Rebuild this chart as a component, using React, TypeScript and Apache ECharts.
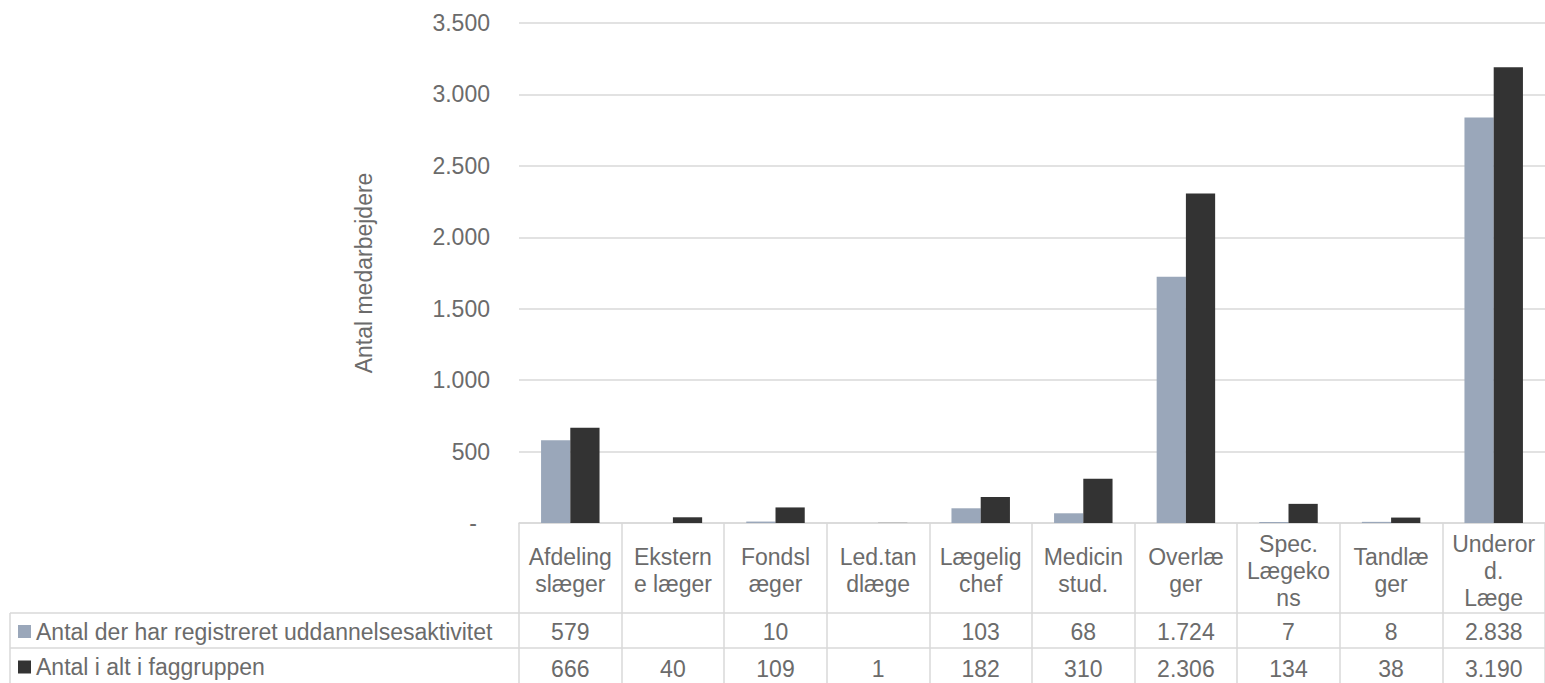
import React, { useEffect, useRef } from "react";
import * as echarts from "echarts";

const categories = [
  "Afdeling\nslæger",
  "Ekstern\ne læger",
  "Fondsl\næger",
  "Led.tan\ndlæge",
  "Lægelig\nchef",
  "Medicin\nstud.",
  "Overlæ\nger",
  "Spec.\nLægeko\nns",
  "Tandlæ\nger",
  "Underor\nd.\nLæge",
];
const seriesNames = [
  "Antal der har registreret uddannelsesaktivitet",
  "Antal i alt i faggruppen",
];
const registered: (number | null)[] = [579, null, 10, null, 103, 68, 1724, 7, 8, 2838];
const total: number[] = [666, 40, 109, 1, 182, 310, 2306, 134, 38, 3190];
const yAxisTitle = "Antal medarbejdere";
const yMin = 0;
const yMax = 3500;
const yInterval = 500;

const TEXT = "#6b6b6b";
const GRID = "#d9d9d9";
const FONT = "'Liberation Sans', Arial, sans-serif";
const FS = 23;

const fmt = (v: number | null) =>
  v == null ? "" : String(v).replace(/\B(?=(\d{3})+(?!\d))/g, ".");

export default function App() {
  const ref = useRef<HTMLDivElement>(null);
  useEffect(() => {
    if (!ref.current) return;
    const chart = echarts.init(ref.current, undefined, { renderer: "svg" });
    const rowAxis = (data: string[], margin: number) => ({
      type: "category",
      data,
      position: "bottom",
      axisLine: { show: false },
      axisTick: { show: false },
      splitLine: { show: false },
      axisLabel: {
        interval: 0,
        margin,
        verticalAlign: "middle",
        fontSize: FS,
        color: TEXT,
        fontFamily: FONT,
      },
    });
    const legendRow = (name: string, top: number) => ({
      orient: "horizontal",
      left: 18,
      top,
      padding: 0,
      itemWidth: 13,
      itemHeight: 13,
      icon: "rect",
      selectedMode: false,
      data: [name],
      textStyle: { fontSize: FS, color: TEXT, lineHeight: 35, fontFamily: FONT },
    });
    chart.setOption({
      animation: false,
      textStyle: { fontFamily: FONT },
      grid: { left: 519, right: 0, top: 23, bottom: 160, containLabel: false },
      legend: [legendRow(seriesNames[0], 614), legendRow(seriesNames[1], 649.5)],
      xAxis: [
        {
          type: "category",
          data: categories,
          axisLine: { lineStyle: { color: GRID, width: 1.5 } },
          axisTick: { show: true, length: 160, lineStyle: { color: GRID, width: 1.5 } },
          axisLabel: {
            interval: 0,
            margin: 47.5,
            verticalAlign: "middle",
            fontSize: FS,
            lineHeight: 27,
            color: TEXT,
            fontFamily: FONT,
          },
        },
        rowAxis(registered.map(fmt), 109),
        rowAxis(total.map(fmt), 146),
      ],
      yAxis: {
        type: "value",
        min: yMin,
        max: yMax,
        interval: yInterval,
        name: yAxisTitle,
        nameLocation: "middle",
        nameGap: 144,
        nameTextStyle: { fontSize: FS, color: TEXT, fontFamily: FONT },
        axisLine: { show: false },
        axisTick: { show: false },
        splitLine: { lineStyle: { color: GRID, width: 1.5 } },
        axisLabel: {
          margin: 29,
          fontSize: FS,
          color: TEXT,
          fontFamily: FONT,
          formatter: (v: number) => (v === 0 ? "{z|-}" : fmt(v)),
          rich: { z: { padding: [0, 13, 0, 0], fontSize: FS, color: TEXT, fontFamily: FONT } },
        },
      },
      series: [
        {
          type: "bar",
          name: seriesNames[0],
          data: registered,
          xAxisIndex: 0,
          itemStyle: { color: "#9aa7ba" },
          barGap: "0%",
          barCategoryGap: "43%",
        },
        {
          type: "bar",
          name: seriesNames[1],
          data: total,
          xAxisIndex: 0,
          itemStyle: { color: "#333333" },
          barGap: "0%",
          barCategoryGap: "43%",
        },
      ],
      graphic: [
        { type: "line", shape: { x1: 10, y1: 613, x2: 1545, y2: 613 }, style: { stroke: GRID, lineWidth: 1.5 } },
        { type: "line", shape: { x1: 10, y1: 648, x2: 1545, y2: 648 }, style: { stroke: GRID, lineWidth: 1.5 } },
        { type: "line", shape: { x1: 10, y1: 613, x2: 10, y2: 683 }, style: { stroke: GRID, lineWidth: 1.5 } },
      ],
    });
    return () => chart.dispose();
  }, []);
  return (
    <div
      ref={ref}
      style={{ position: "absolute", left: 0, top: 0, width: 1545, height: 683 }}
    />
  );
}
